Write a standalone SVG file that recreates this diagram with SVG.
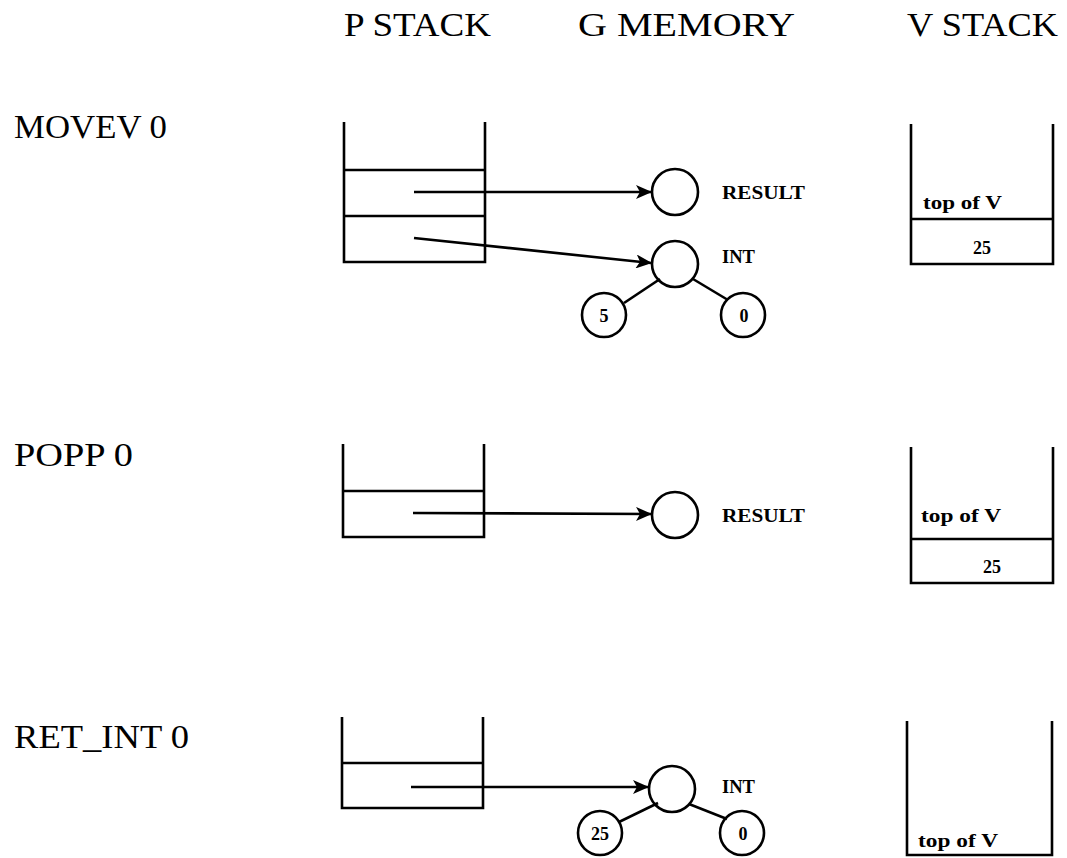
<svg xmlns="http://www.w3.org/2000/svg" width="1067" height="858" viewBox="0 0 1067 858">
  <style>
    .bg { fill: #ffffff; }
    .ln { stroke: #000; stroke-width: 2.6; fill: none; stroke-linecap: butt; }
    .nd { stroke: #000; stroke-width: 2.6; fill: #fff; }
    .hd { font-family: "Liberation Serif", serif; font-size: 33px; fill: #000; }
    .lb { font-family: "Liberation Serif", serif; font-size: 19px; font-weight: bold; fill: #000; }
    .num { font-family: "Liberation Serif", serif; font-size: 18px; font-weight: bold; fill: #000; text-anchor: middle; }
  </style>
  <defs>
    <marker id="arrow" viewBox="0 0 16 14" refX="15" refY="7" markerWidth="16" markerHeight="14" markerUnits="userSpaceOnUse" orient="auto">
      <path d="M0,0 L16,7 L0,14 L4,7 z" fill="#000"/>
    </marker>
  </defs>
  <rect class="bg" x="0" y="0" width="1067" height="858"/>

  <!-- column headings -->
  <g id="headings">
    <text class="hd" x="344" y="36" textLength="147" lengthAdjust="spacingAndGlyphs">P STACK</text>
    <text class="hd" x="578" y="36" textLength="217" lengthAdjust="spacingAndGlyphs">G MEMORY</text>
    <text class="hd" x="907" y="36" textLength="151" lengthAdjust="spacingAndGlyphs">V STACK</text>
  </g>

  <!-- instruction labels -->
  <g id="instructions">
    <text class="hd" x="14" y="138" textLength="153" lengthAdjust="spacingAndGlyphs">MOVEV 0</text>
    <text class="hd" x="14" y="466" textLength="119" lengthAdjust="spacingAndGlyphs">POPP 0</text>
    <text class="hd" x="14" y="748" textLength="175" lengthAdjust="spacingAndGlyphs">RET_INT 0</text>
  </g>

  <!-- ===== MOVEV 0 ===== -->
  <g id="pstack1">
    <path class="ln" d="M344,122 V262 H485 V122 M344,170 H485 M344,216 H485"/>
  </g>
  <g id="gmem1-result">
    <circle class="nd" cx="675" cy="192" r="23"/>
    <text class="lb" x="722" y="199" textLength="83" lengthAdjust="spacingAndGlyphs">RESULT</text>
  </g>
  <g id="gmem1-int">
    <circle class="nd" cx="675" cy="264" r="23"/>
    <text class="lb" x="722" y="263" textLength="33" lengthAdjust="spacingAndGlyphs">INT</text>
  </g>
  <g id="gmem1-left">
    <circle class="nd" cx="604" cy="315" r="22"/>
    <text class="num" x="604" y="322">5</text>
  </g>
  <g id="gmem1-right">
    <circle class="nd" cx="743" cy="315" r="22"/>
    <text class="num" x="744" y="322">0</text>
  </g>
  <g id="vstack1">
    <path class="ln" d="M911,124 V264 H1053 V124 M911,219 H1053"/>
    <text class="lb" x="923" y="209" textLength="79" lengthAdjust="spacingAndGlyphs">top of V</text>
    <text class="num" x="982" y="254">25</text>
  </g>

  <!-- ===== POPP 0 ===== -->
  <g id="pstack2">
    <path class="ln" d="M343,444 V537 H484 V444 M343,491 H484"/>
  </g>
  <g id="gmem2-result">
    <circle class="nd" cx="675" cy="515" r="23"/>
    <text class="lb" x="722" y="522" textLength="83" lengthAdjust="spacingAndGlyphs">RESULT</text>
  </g>
  <g id="vstack2">
    <path class="ln" d="M911,447 V583 H1053 V447 M911,539 H1053"/>
    <text class="lb" x="921" y="522" textLength="80" lengthAdjust="spacingAndGlyphs">top of V</text>
    <text class="num" x="992" y="573">25</text>
  </g>

  <!-- ===== RET_INT 0 ===== -->
  <g id="pstack3">
    <path class="ln" d="M342,717 V808 H483 V717 M342,763 H483"/>
  </g>
  <g id="gmem3-int">
    <circle class="nd" cx="672" cy="789" r="23"/>
    <text class="lb" x="722" y="793" textLength="33" lengthAdjust="spacingAndGlyphs">INT</text>
  </g>
  <g id="gmem3-left">
    <circle class="nd" cx="600" cy="833" r="22"/>
    <text class="num" x="600" y="840">25</text>
  </g>
  <g id="gmem3-right">
    <circle class="nd" cx="742" cy="833" r="22"/>
    <text class="num" x="743" y="840">0</text>
  </g>
  <g id="vstack3">
    <path class="ln" d="M907,721 V855 H1052 V721"/>
    <text class="lb" x="918" y="847" textLength="80" lengthAdjust="spacingAndGlyphs">top of V</text>
  </g>

  <!-- connectors -->
  <g id="connectors">
    <line class="ln" x1="414" y1="192" x2="651" y2="192" marker-end="url(#arrow)"/>
    <line class="ln" x1="414" y1="238" x2="651" y2="263" marker-end="url(#arrow)"/>
    <line class="ln" x1="660" y1="279" x2="624" y2="303"/>
    <line class="ln" x1="693" y1="279" x2="728" y2="300"/>

    <line class="ln" x1="413" y1="513" x2="651" y2="514" marker-end="url(#arrow)"/>

    <line class="ln" x1="411" y1="787" x2="648" y2="787" marker-end="url(#arrow)"/>
    <line class="ln" x1="658" y1="803" x2="619" y2="822"/>
    <line class="ln" x1="689" y1="804" x2="727" y2="819"/>
  </g>
</svg>
